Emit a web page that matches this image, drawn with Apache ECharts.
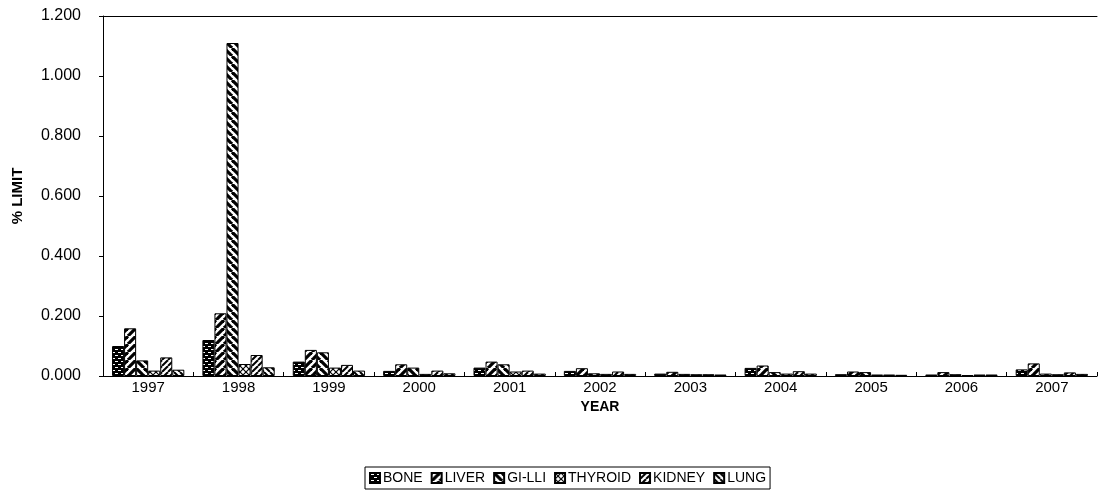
<!DOCTYPE html>
<html><head><meta charset="utf-8">
<script src="https://cdn.jsdelivr.net/npm/echarts@6/dist/echarts.min.js"></script>
<style>html,body{margin:0;padding:0;background:#fff}#c{width:1107px;height:494px}</style>
</head><body><div id="c"></div>
<script>
const years = ['1997','1998','1999','2000','2001','2002','2003','2004','2005','2006','2007'];
const bone    = [0.100,0.120,0.048,0.017,0.028,0.017,0.008,0.027,0.006,0.005,0.022];
const liver   = [0.159,0.209,0.087,0.039,0.048,0.026,0.014,0.035,0.015,0.013,0.042];
const gilli   = [0.052,1.110,0.079,0.028,0.039,0.009,0.007,0.013,0.013,0.006,0.008];
const thyroid = [0.018,0.040,0.028,0.007,0.015,0.007,0.006,0.008,0.005,0.003,0.006];
const kidney  = [0.062,0.070,0.037,0.018,0.018,0.015,0.006,0.016,0.005,0.005,0.012];
const lung    = [0.021,0.029,0.018,0.009,0.008,0.007,0.005,0.008,0.004,0.005,0.007];
const seriesNames = ['BONE','LIVER','GI-LLI','THYROID','KIDNEY','LUNG'];
const seriesData = [bone, liver, gilli, thyroid, kidney, lung];
const yTicks = [0, 0.2, 0.4, 0.6, 0.8, 1.0, 1.2];

function makeCanvas(s){const c=document.createElement('canvas');c.width=s;c.height=s;return c;}
function stripes(s, w, dir){
  const c=makeCanvas(s), g=c.getContext('2d');
  g.fillStyle='#fff';g.fillRect(0,0,s,s);
  g.strokeStyle='#000';g.lineWidth=w;
  for(let k=-1;k<=1;k++){
    g.beginPath();
    if(dir==='/'){g.moveTo(k*s,s);g.lineTo(k*s+s,0);}
    else{g.moveTo(k*s,0);g.lineTo(k*s+s,s);}
    g.stroke();
  }
  return c;
}
function dots(){
  const c=makeCanvas(6), g=c.getContext('2d');
  g.fillStyle='#000';g.fillRect(0,0,6,6);
  g.fillStyle='#fff';g.fillRect(1,1,3,1);g.fillRect(4,4,2,1);g.fillRect(0,4,1,1);
  return c;
}
function cross(){
  const s=6,c=makeCanvas(s), g=c.getContext('2d');
  g.fillStyle='#fff';g.fillRect(0,0,s,s);
  g.strokeStyle='#000';g.lineWidth=1.2;
  for(let k=-1;k<=1;k++){
    g.beginPath();g.moveTo(k*s,s);g.lineTo(k*s+s,0);g.stroke();
    g.beginPath();g.moveTo(k*s,0);g.lineTo(k*s+s,s);g.stroke();
  }
  return c;
}
const patterns = [dots(), stripes(8,3.2,'/'), stripes(8,3.2,'\\'), cross(), stripes(6,2,'/'), stripes(6,2,'\\')];

const chart = echarts.init(document.getElementById('c'), null, {renderer:'canvas'});
const font = 'Liberation Sans, Arial, sans-serif';
chart.setOption({
  backgroundColor:'#fff',
  animation:false,
  grid:{left:103,right:10,top:16,bottom:118},
  legend:{
    bottom:5,left:365,
    data:seriesNames,
    itemWidth:10,itemHeight:10,itemGap:8,
    borderColor:'#000',borderWidth:1,padding:[4,4,4,4],
    textStyle:{fontFamily:font,fontSize:14,color:'#000',padding:[0,0,0,-2]},
    icon:'rect'
  },
  xAxis:[{
    type:'category',data:years,
    name:'YEAR',nameLocation:'middle',nameGap:24,
    nameTextStyle:{fontFamily:font,fontSize:14,fontWeight:'bold',color:'#000'},
    axisLine:{lineStyle:{color:'#000',width:1}},
    axisTick:{show:true,inside:true,length:4,lineStyle:{color:'#000'}},
    axisLabel:{fontFamily:font,fontSize:15,color:'#000',margin:4}
  },{
    type:'category',data:years,position:'top',
    axisLine:{show:true,lineStyle:{color:'#000',width:1}},
    axisTick:{show:false},axisLabel:{show:false}
  }],
  yAxis:{
    type:'value',min:0,max:1.2,interval:0.2,
    name:'% LIMIT',nameLocation:'middle',nameGap:78,nameRotate:90,
    nameTextStyle:{fontFamily:font,fontSize:15,fontWeight:'bold',color:'#000'},
    axisLine:{show:true,lineStyle:{color:'#000',width:1}},
    axisTick:{show:true,length:4,lineStyle:{color:'#000'}},
    splitLine:{show:false},
    axisLabel:{fontFamily:font,fontSize:16,color:'#000',margin:22,formatter:v=>v.toFixed(3)}
  },
  series: seriesNames.map((n,i)=>({
    name:n,type:'bar',data:seriesData[i],
    barGap:'0%',barCategoryGap:'20%',
    itemStyle:{color:{image:patterns[i],repeat:'repeat'},borderColor:'#000',borderWidth:1}
  }))
});
</script></body></html>
